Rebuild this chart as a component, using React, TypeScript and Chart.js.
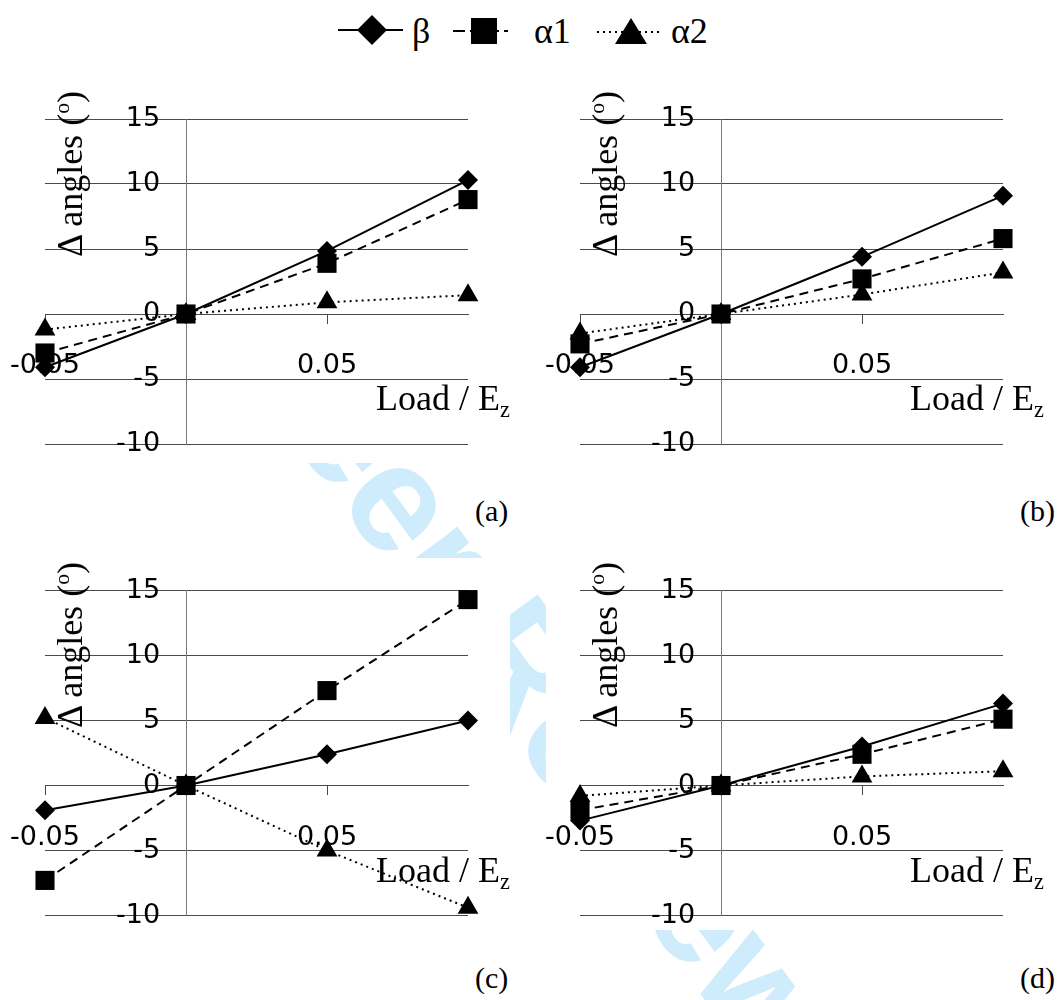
import React, { useEffect, useRef } from "react";
import { Chart, registerables } from "chart.js";

Chart.register(...registerables);

// ---------- data ----------
const loads = [-0.05, 0, 0.05, 0.1];
const xTicks = [-0.05, 0.05];
const yTicks = [-10, -5, 0, 5, 10, 15];
const seriesNames = ["β", "α1", "α2"];
const panelLabels = ["(a)", "(b)", "(c)", "(d)"];
const xTitle = "Load / E";
const xTitleSub = "z";
const yTitle = "Δ angles (";

const betaA = [-4.1, 0, 4.85, 10.3];
const alpha1A = [-3.0, 0, 3.9, 8.8];
const alpha2A = [-1.2, 0, 0.9, 1.45];

const betaB = [-4.1, 0, 4.4, 9.1];
const alpha1B = [-2.3, 0, 2.7, 5.8];
const alpha2B = [-1.5, 0, 1.5, 3.2];

const betaC = [-1.9, 0, 2.4, 5.0];
const alpha1C = [-7.3, 0, 7.3, 14.3];
const alpha2C = [5.2, 0, -5.0, -9.4];

const betaD = [-2.7, 0, 3.0, 6.3];
const alpha1D = [-1.9, 0, 2.4, 5.1];
const alpha2D = [-0.8, 0, 0.7, 1.1];

// ---------- styles ----------
const SERIF = '"Liberation Serif", "Times New Roman", serif';
const SANS = '"DejaVu Sans", sans-serif';
const GRID = "#4a4a4a";
const VAXIS = "#7a7a7a";
const Y_LABEL_POS = -0.0092; // x-value where the right edge of the y tick labels sits

const seriesStyles = [
  { dash: [], pointStyle: "rectRot", radius: 10 },
  { dash: [9, 6], pointStyle: "rect", radius: 13.5 },
  { dash: [2, 4], pointStyle: "triangle", radius: 12 },
];

type PanelProps = {
  left: number;
  top: number;
  width: number;
  height: number;
  pad: { left: number; right: number; top: number; bottom: number };
  series: number[][];
};

function PanelChart({ left, top, width, height, pad, series }: PanelProps) {
  const ref = useRef<HTMLCanvasElement | null>(null);
  useEffect(() => {
    if (!ref.current) return;
    const datasets = series.map((vals, i) => ({
      label: seriesNames[i],
      data: loads.map((x, j) => ({ x, y: vals[j] })),
      borderColor: "#000",
      backgroundColor: "#000",
      borderWidth: 2,
      borderDash: seriesStyles[i].dash,
      pointStyle: seriesStyles[i].pointStyle,
      pointRadius: seriesStyles[i].radius,
      pointBackgroundColor: "#000",
      pointBorderColor: "#000",
      pointBorderWidth: 0,
      showLine: true,
      tension: 0,
      clip: false,
      order: i,
    }));
    const zeroSize = (s: any) => {
      s.width = s.isHorizontal() ? s.width : 0;
      s.height = s.isHorizontal() ? 0 : s.height;
      s.paddingLeft = 0;
      s.paddingRight = 0;
      s.paddingTop = 0;
      s.paddingBottom = 0;
    };
    const yTickSetter = (s: any) => {
      s.ticks = yTicks.map((v) => ({ value: v }));
    };
    const chart = new Chart(ref.current, {
      type: "line",
      data: { datasets },
      options: {
        animation: false,
        responsive: false,
        maintainAspectRatio: false,
        layout: { padding: pad },
        plugins: { legend: { display: false }, tooltip: { enabled: false } },
        scales: {
          x: {
            type: "linear",
            min: -0.05,
            max: 0.1,
            position: { y: 0 },
            afterBuildTicks: (s: any) => {
              s.ticks = xTicks.map((v) => ({ value: v }));
            },
            afterFit: zeroSize,
            grid: {
              drawOnChartArea: false,
              drawTicks: true,
              tickLength: 9,
              color: GRID,
              lineWidth: 1,
            },
            border: { display: true, color: GRID, width: 1 },
            ticks: {
              autoSkip: false,
              maxRotation: 0,
              padding: 27,
              color: "#000",
              font: { family: SANS, size: 27 },
              callback: (v: any) => String(v),
            },
          },
          y: {
            type: "linear",
            min: -10,
            max: 15,
            position: { x: 0 },
            afterBuildTicks: yTickSetter,
            afterFit: zeroSize,
            grid: { drawTicks: false, color: GRID, lineWidth: 1 },
            border: { display: true, color: VAXIS, width: 1 },
            ticks: { display: false },
          },
          yLabels: {
            type: "linear",
            axis: "y",
            min: -10,
            max: 15,
            position: { x: Y_LABEL_POS },
            afterBuildTicks: yTickSetter,
            afterFit: zeroSize,
            grid: { display: false },
            border: { display: false },
            ticks: {
              autoSkip: false,
              padding: 0,
              color: "#000",
              font: { family: SANS, size: 27 },
              callback: (v: any) => String(v),
            },
          },
        },
      } as any,
    });
    return () => chart.destroy();
  }, []);
  return (
    <canvas
      ref={ref}
      width={width}
      height={height}
      style={{ position: "absolute", left, top, width, height }}
    />
  );
}

function YTitle({ cx, cy }: { cx: number; cy: number }) {
  return (
    <div
      style={{
        position: "absolute",
        left: cx,
        top: cy,
        transform: "translate(-50%, -50%) rotate(-90deg)",
        whiteSpace: "nowrap",
        lineHeight: 1,
        fontSize: 36,
        fontFamily: SERIF,
        color: "#000",
      }}
    >
      {yTitle}
      <span style={{ fontSize: "0.6em", position: "relative", top: "-0.6em" }}>o</span>)
    </div>
  );
}

function XTitle({ x, baseline }: { x: number; baseline: number }) {
  return (
    <div
      style={{
        position: "absolute",
        left: x,
        top: baseline - 30,
        whiteSpace: "nowrap",
        lineHeight: 1,
        fontSize: 36,
        fontFamily: SERIF,
        color: "#000",
      }}
    >
      {xTitle}
      <span style={{ fontSize: "0.62em", position: "relative", top: "0.3em" }}>{xTitleSub}</span>
    </div>
  );
}

function PanelLabel({ x, baseline, text }: { x: number; baseline: number; text: string }) {
  return (
    <div
      style={{
        position: "absolute",
        left: x,
        top: baseline - 25,
        whiteSpace: "nowrap",
        lineHeight: 1,
        fontSize: 30,
        fontFamily: SERIF,
        color: "#000",
      }}
    >
      {text}
    </div>
  );
}

function Legend() {
  return (
    <svg width={1060} height={60} style={{ position: "absolute", left: 0, top: 0 }}>
      <line x1={338} y1={30} x2={403} y2={30} stroke="#000" strokeWidth={2} />
      <polygon points="372,15 387,30 372,45 357,30" fill="#000" />
      <text x={412} y={43} fontFamily={SERIF} fontSize={36} fill="#000">
        {seriesNames[0]}
      </text>
      <line x1={453} y1={31} x2={508} y2={31} stroke="#000" strokeWidth={2} strokeDasharray="12 5" />
      <rect x={471} y={18} width={26} height={26} fill="#000" />
      <text x={534} y={43} fontFamily={SERIF} fontSize={36} fill="#000">
        {seriesNames[1]}
      </text>
      <line x1={597} y1={32} x2={663} y2={32} stroke="#000" strokeWidth={2} strokeDasharray="2 4" />
      <polygon points="631,18 647,44 615,44" fill="#000" />
      <text x={671} y={43} fontFamily={SERIF} fontSize={36} fill="#000">
        {seriesNames[2]}
      </text>
    </svg>
  );
}

export default function App() {
  const boxes = [
    { left: 0, top: 0, width: 530, height: 463 },
    { left: 546, top: 0, width: 514, height: 463 },
    { left: 0, top: 558, width: 510, height: 372 },
    { left: 546, top: 558, width: 514, height: 372 },
  ];
  return (
    <div
      style={{
        position: "absolute",
        left: 0,
        top: 0,
        width: 1060,
        height: 1000,
        background: "#fff",
        overflow: "hidden",
      }}
    >
      <svg width={1060} height={1000} style={{ position: "absolute", left: 0, top: 0 }}>
        <text
          x={54}
          y={114}
          transform="rotate(53.7 54 114)"
          fontFamily='"Liberation Sans", Arial, sans-serif'
          fontWeight="bold"
          fontSize={153}
          fill="rgb(206,236,252)"
        >
          For Peer Review
        </text>
      </svg>
      {boxes.map((b, i) => (
        <div
          key={i}
          style={{ position: "absolute", left: b.left, top: b.top, width: b.width, height: b.height, background: "#fff" }}
        />
      ))}
      <Legend />
      <PanelChart
        left={0}
        top={60}
        width={530}
        height={420}
        pad={{ left: 45, right: 62, top: 59, bottom: 36 }}
        series={[betaA, alpha1A, alpha2A]}
      />
      <PanelChart
        left={535}
        top={60}
        width={525}
        height={420}
        pad={{ left: 45, right: 57, top: 59, bottom: 36 }}
        series={[betaB, alpha1B, alpha2B]}
      />
      <PanelChart
        left={0}
        top={530}
        width={530}
        height={420}
        pad={{ left: 45, right: 62, top: 60.5, bottom: 34.5 }}
        series={[betaC, alpha1C, alpha2C]}
      />
      <PanelChart
        left={535}
        top={530}
        width={525}
        height={420}
        pad={{ left: 45, right: 57, top: 60.5, bottom: 34.5 }}
        series={[betaD, alpha1D, alpha2D]}
      />
      <YTitle cx={70} cy={174} />
      <YTitle cx={605} cy={174} />
      <YTitle cx={70} cy={645} />
      <YTitle cx={605} cy={645} />
      <XTitle x={376} baseline={410} />
      <XTitle x={910} baseline={410} />
      <XTitle x={376} baseline={882} />
      <XTitle x={910} baseline={882} />
      <PanelLabel x={475} baseline={521} text={panelLabels[0]} />
      <PanelLabel x={1020} baseline={521} text={panelLabels[1]} />
      <PanelLabel x={475} baseline={988} text={panelLabels[2]} />
      <PanelLabel x={1020} baseline={988} text={panelLabels[3]} />
    </div>
  );
}
